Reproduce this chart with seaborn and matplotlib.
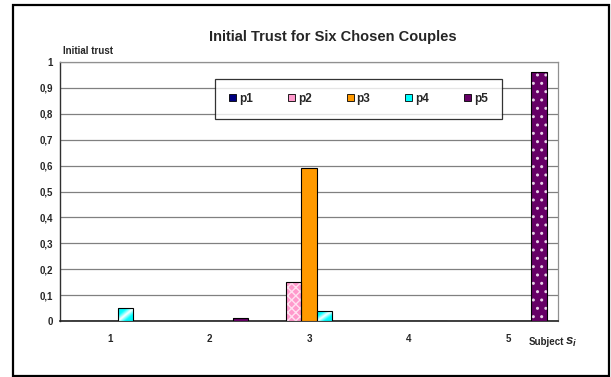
import numpy as np
import pandas as pd
import matplotlib
matplotlib.use("Agg")
import matplotlib.pyplot as plt
import matplotlib.patches as mpatches
from matplotlib.colors import LinearSegmentedColormap
import seaborn as sns

# ---- data -------------------------------------------------------------
subjects = ["1", "2", "3", "4", "5"]
couples = ["p1", "p2", "p3", "p4", "p5"]
p1 = [0.0, 0.0, 0.0, 0.0, 0.0]
p2 = [0.0, 0.0, 0.15, 0.0, 0.0]
p3 = [0.0, 0.0, 0.59, 0.0, 0.0]
p4 = [0.05, 0.0, 0.04, 0.0, 0.0]
p5 = [0.0, 0.01, 0.0, 0.0, 0.96]
y_ticks = [0.0, 0.1, 0.2, 0.3, 0.4, 0.5, 0.6, 0.7, 0.8, 0.9, 1.0]
y_tick_labels = ["0", "0,1", "0,2", "0,3", "0,4", "0,5", "0,6", "0,7", "0,8", "0,9", "1"]

colors = {"p1": "#000080", "p2": "#FF99CC", "p3": "#FF9900",
          "p4": "#00FFFF", "p5": "#660066"}

series = {"p1": p1, "p2": p2, "p3": p3, "p4": p4, "p5": p5}
df = pd.DataFrame([
    {"subject": s, "couple": c, "trust": v}
    for c in couples for s, v in zip(subjects, series[c])
])

# ---- figure -------------------------------------------------------------
sns.set_style("white")
plt.rcParams["font.family"] = ["Liberation Sans", "DejaVu Sans"]
plt.rcParams["mathtext.fontset"] = "custom"
plt.rcParams["mathtext.it"] = "Liberation Sans:bold:italic"
plt.rcParams["mathtext.rm"] = "Liberation Sans:bold"

W, H = 611, 377
fig = plt.figure(figsize=(W / 100, H / 100), dpi=100)
fig.patch.set_facecolor("white")

def fx(px):
    return px / W

def fy(py):
    return 1 - py / H

ax = fig.add_axes([fx(60), fy(321), fx(558) - fx(60), fy(62) - fy(321)])

sns.barplot(data=df, x="subject", y="trust", hue="couple", order=subjects,
            hue_order=couples, palette=colors, saturation=1, width=0.775,
            edgecolor="black", linewidth=0.8, legend=False, ax=ax, zorder=3)

ax.set_ylim(0, 1)
ax.set_xlim(-0.5, len(subjects) - 0.5)

# patterned fills
containers = dict(zip(couples, ax.containers))

def pattern(bars, hatch, hatch_color):
    for bar in bars:
        if bar.get_height() <= 0:
            continue
        bar.set_hatch(hatch)
        bar.set_edgecolor(hatch_color)
        bar.set_linewidth(0)
        outline = mpatches.Rectangle(bar.get_xy(), bar.get_width(), bar.get_height(),
                                     fill=False, edgecolor="black", linewidth=0.8,
                                     zorder=4)
        ax.add_patch(outline)

plt.rcParams["hatch.linewidth"] = 0.7
pattern(containers["p2"], "xxxx", "#FFE0F0")
plt.rcParams["hatch.linewidth"] = 1.0
pattern(containers["p5"], "..", "#E8D0E8")

# diagonal two-tone gradient for p4
grad_cmap = LinearSegmentedColormap.from_list(
    "cyan_grad", [(0.0, "#FFFFFF"), (0.45, "#00FFFF"), (1.0, "#00F0F0")])
uu, vv = np.meshgrid(np.linspace(0, 1, 60), np.linspace(0, 1, 60))
grad = np.abs(uu - vv)
for bar in containers["p4"]:
    if bar.get_height() <= 0:
        continue
    x0, y0 = bar.get_xy()
    im = ax.imshow(grad, cmap=grad_cmap, origin="lower", aspect="auto",
                   extent=(x0, x0 + bar.get_width(), y0, y0 + bar.get_height()),
                   zorder=3.5, interpolation="bilinear")
    im.set_clip_path(bar)
    bar.set_zorder(4)
    bar.set_facecolor("none")
ax.set_xlim(-0.5, len(subjects) - 0.5)
ax.set_ylim(0, 1)

# axes styling
ax.set_yticks(y_ticks)
ax.set_yticklabels(y_tick_labels)
ax.yaxis.grid(True, color="#808080", linewidth=0.9, zorder=0)
ax.set_axisbelow(True)
ax.set_xticks(np.arange(-0.5, len(subjects)), labels=[""] * (len(subjects) + 1))
ax.set_xticks(np.arange(len(subjects)), labels=subjects, minor=True)
ax.tick_params(axis="x", which="major", length=3, width=0.8, color="#202020",
               direction="out")
ax.tick_params(axis="x", which="minor", length=0, pad=9, labelsize=7)
ax.tick_params(axis="y", length=3, width=0.8, color="#202020", direction="out",
               labelsize=7, pad=2)
for lab in ax.get_xticklabels(minor=True) + ax.get_yticklabels():
    lab.set_fontweight("bold")
ax.set_xlabel("")
ax.set_ylabel("")
for side in ["top", "right"]:
    ax.spines[side].set_visible(True)
    ax.spines[side].set_color("#909090")
    ax.spines[side].set_linewidth(0.9)
ax.spines["left"].set_color("#303030")
ax.spines["bottom"].set_color("#202020")
ax.spines["left"].set_linewidth(1.0)
ax.spines["bottom"].set_linewidth(1.2)

# legend
handles = [mpatches.Patch(facecolor=colors[c], edgecolor="black", linewidth=0.6)
           for c in couples]
leg = fig.legend(handles, couples, loc="lower left", ncol=5, mode="expand",
                 bbox_to_anchor=(fx(215), fy(119), fx(502) - fx(215), fy(78) - fy(119)),
                 bbox_transform=fig.transFigure, frameon=True, fancybox=False,
                 borderpad=1.2, handlelength=0.6, handleheight=0.6,
                 handletextpad=0.25, columnspacing=1.0, borderaxespad=0,
                 prop={"size": 8.5, "weight": "bold"})
leg.get_frame().set_edgecolor("black")
leg.get_frame().set_linewidth(0.9)

# titles and axis captions
fig.text(fx(333), fy(37), "Initial Trust for Six Chosen Couples", ha="center",
         va="center", fontsize=10.5, fontweight="bold")
fig.text(fx(63), fy(51), "Initial trust", ha="left", va="center", fontsize=7,
         fontweight="bold")
fig.text(fx(529), fy(342), "Subject", ha="left", va="center", fontsize=7,
         fontweight="bold")
fig.text(fx(565), fy(342), r"$s_{i}$", ha="left", va="center", fontsize=9.5)

# chart frame
fig.patches.append(mpatches.Rectangle((fx(13), fy(376)), fx(609) - fx(13),
                                      fy(5) - fy(376), transform=fig.transFigure,
                                      fill=False, edgecolor="black", linewidth=1.6))

fig.savefig("out.png", dpi=100)
